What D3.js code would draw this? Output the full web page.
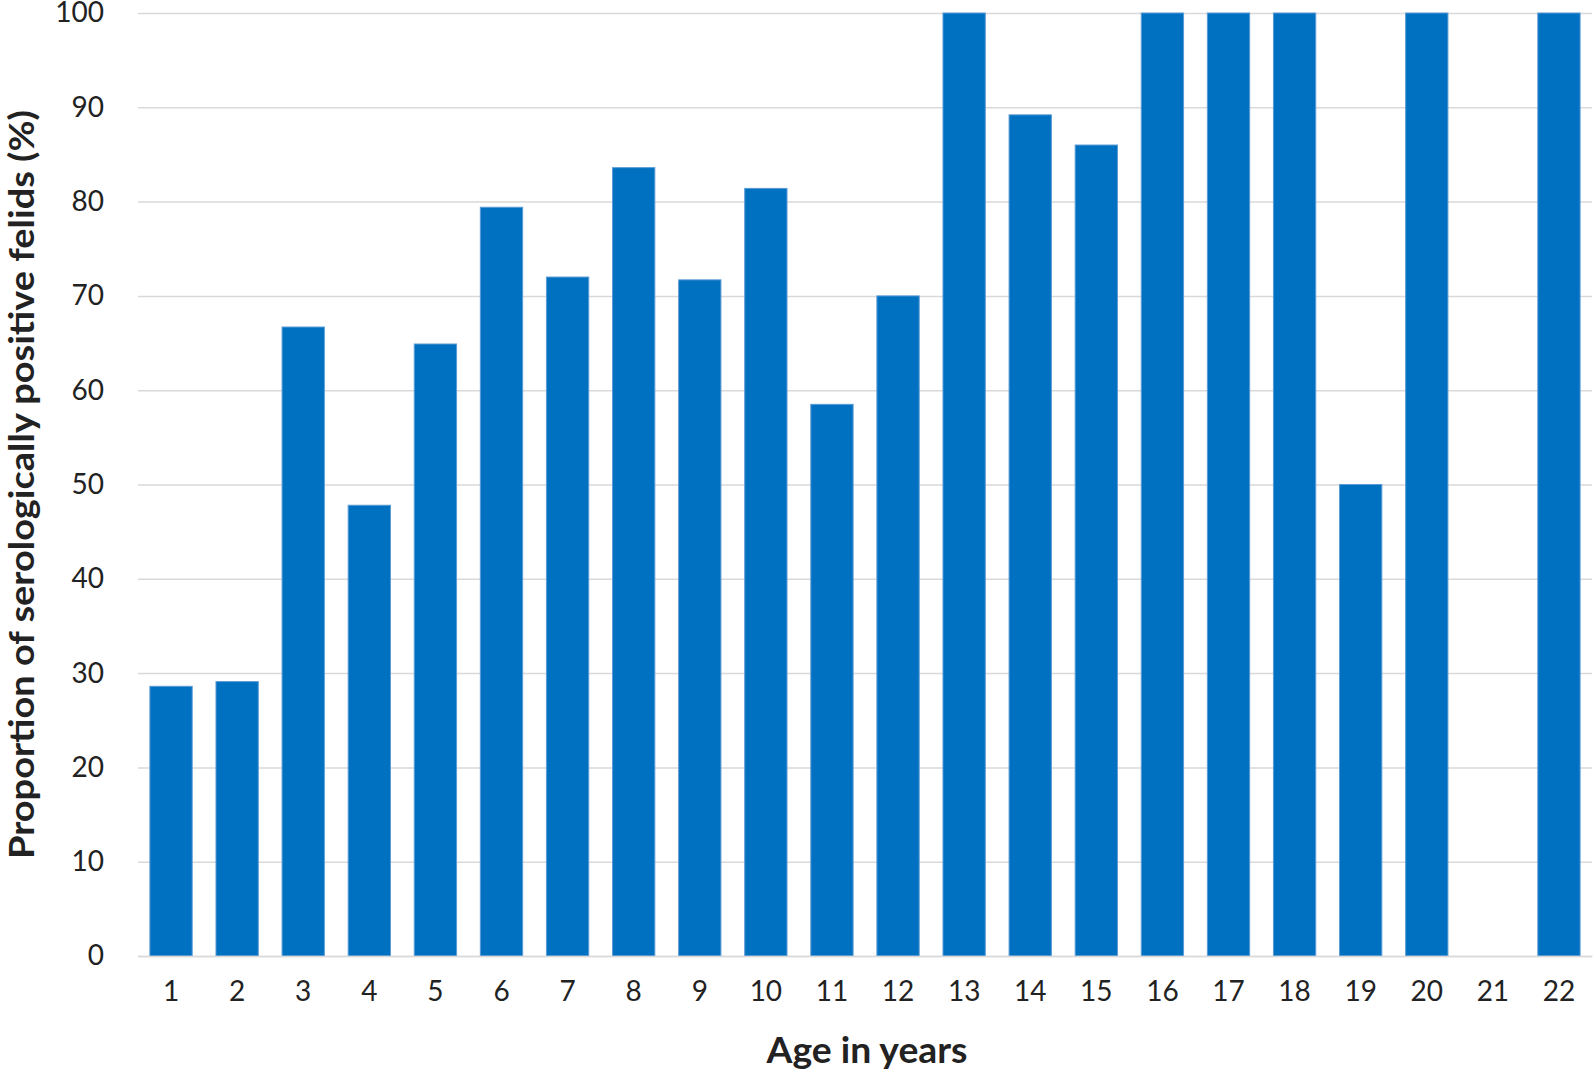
<!DOCTYPE html>
<html lang="en">
<head>
    <meta charset="UTF-8">
    <title>Serologically positive felids by age</title>
    <script src="https://d3js.org/d3.v7.min.js"></script>
    <style>
        body { margin: 0; background: #fff; }
        svg { display: block; }
    </style>
</head>
<body>

    <script>
        // Data
        const ages = ['1', '2', '3', '4', '5', '6', '7', '8', '9', '10', '11',
                      '12', '13', '14', '15', '16', '17', '18', '19', '20', '21', '22'];
        const positive = [28.6, 29.1, 66.7, 47.8, 64.9, 79.4, 72.0, 83.6, 71.7, 81.4, 58.5,
                          70.0, 100, 89.2, 86.0, 100, 100, 100, 50, 100, 0, 100];
        const yTicks = [0, 10, 20, 30, 40, 50, 60, 70, 80, 90, 100];

        // Layout
        const W = 1594, H = 1072;
        const margin = { top: 13, right: 2, bottom: 116, left: 138 };
        const width = W - margin.left - margin.right;
        const height = H - margin.top - margin.bottom;
        const font = 'Lato, "Open Sans", sans-serif';

        const svg = d3.select('body')
            .append('svg')
            .attr('width', W)
            .attr('height', H)
            .append('g')
            .attr('transform', 'translate(' + margin.left + ',' + margin.top + ')');

        const x = d3.scaleBand()
            .domain(ages)
            .range([0, width])
            .paddingInner(0.36)
            .paddingOuter(0.18);

        const y = d3.scaleLinear()
            .domain([0, 100])
            .range([height, 0]);

        // Gridlines
        svg.append('g')
            .call(d3.axisLeft(y).tickValues(yTicks).tickSize(-width).tickFormat(''))
            .call(g => g.select('.domain').remove())
            .call(g => g.selectAll('line').attr('stroke', '#d9d9d9').attr('stroke-width', 1.5));

        // Y tick labels
        svg.append('g')
            .call(d3.axisLeft(y).tickValues(yTicks).tickSize(0).tickPadding(34))
            .call(g => g.select('.domain').remove())
            .call(g => g.selectAll('text')
                .attr('font-family', font)
                .attr('font-size', 28)
                .attr('fill', '#222'));

        // Bars
        svg.selectAll('rect.bar')
            .data(positive)
            .enter()
            .append('rect')
            .attr('class', 'bar')
            .attr('x', (d, i) => x(ages[i]))
            .attr('y', d => y(d))
            .attr('width', x.bandwidth())
            .attr('height', d => y(0) - y(d))
            .attr('fill', '#0070c0')
            .attr('stroke', d => d > 0 ? '#5b9bd5' : 'none')
            .attr('stroke-width', 1);

        // X axis
        svg.append('g')
            .attr('transform', 'translate(0,' + height + ')')
            .call(d3.axisBottom(x).tickSize(0).tickPadding(25))
            .call(g => g.select('.domain').attr('stroke', '#d9d9d9').attr('stroke-width', 1.5))
            .call(g => g.selectAll('text')
                .attr('font-family', font)
                .attr('font-size', 28)
                .attr('fill', '#222'));

        // Axis titles
        svg.append('text')
            .attr('x', width / 2 + 2)
            .attr('y', height + 107)
            .attr('text-anchor', 'middle')
            .attr('font-family', font)
            .attr('font-weight', 'bold')
            .attr('font-size', 36)
            .attr('textLength', 201)
            .attr('lengthAdjust', 'spacingAndGlyphs')
            .attr('fill', '#222')
            .text('Age in years');

        svg.append('text')
            .attr('transform', 'rotate(-90)')
            .attr('x', -height / 2)
            .attr('y', -margin.left + 34)
            .attr('text-anchor', 'middle')
            .attr('font-family', font)
            .attr('font-weight', 'bold')
            .attr('font-size', 35)
            .attr('textLength', 749)
            .attr('lengthAdjust', 'spacingAndGlyphs')
            .attr('fill', '#222')
            .text('Proportion of serologically positive felids (%)');
    </script>

</body>
</html>
